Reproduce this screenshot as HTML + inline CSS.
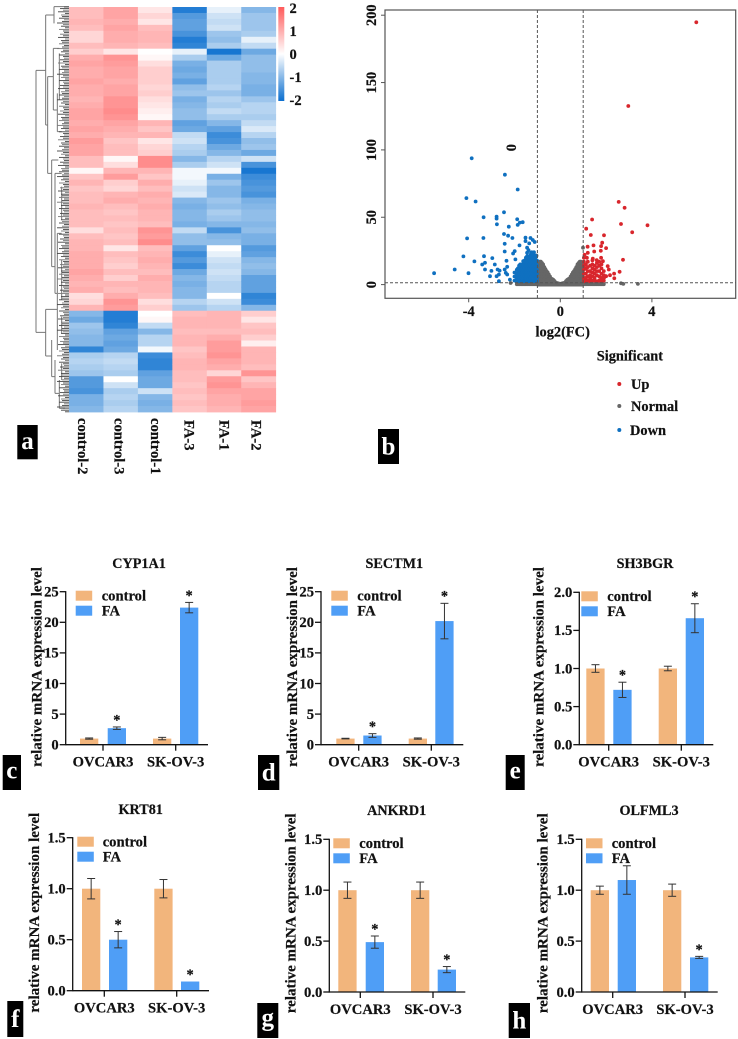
<!DOCTYPE html>
<html lang="en">
<head>
<meta charset="utf-8">
<title>Heatmap, volcano plot and qPCR bar charts</title>
<style>
html,body{margin:0;padding:0;background:#fff;width:738px;height:1039px;overflow:hidden}
svg{display:block;filter:blur(.3px)}
text{font-family:"Liberation Serif",serif;font-weight:bold;fill:#111;stroke:#111;stroke-width:.2px}
</style>
</head>
<body>
<svg id="figure" xmlns="http://www.w3.org/2000/svg" width="738" height="1039" viewBox="0 0 738 1039">
  <defs>
    <linearGradient id="cbar" x1="0" y1="0" x2="0" y2="1">
      <stop offset="0" stop-color="#ff5a5a"/><stop offset=".5" stop-color="#ffffff"/><stop offset="1" stop-color="#0b6fcf"/>
    </linearGradient>
  </defs>
  <g id="heatmap"></g>
  <g id="dendro" fill="none" stroke="#777" stroke-width="1">
    <path transform="scale(.33333)" stroke-width="3" d="M108 211V997M108 211H137M108 997H137M137 45V375M137 45H162M137 375H143M143 230V520M143 230H160M143 520H155M160 145V330M160 145H178M160 330H172M162 20V70M162 20H207M172 280V395M172 395H185M178 160V300M155 480V800M155 480H175M155 800H165M165 520V880M165 520H185M165 880H172M172 700V1000M172 700H185M185 560V660M185 780V900M137 928V1068M137 928H172M137 1068H155M172 928V1020M155 1020V1130M155 1130H165M172 960V1050M165 1080V1180M165 1180H178M178 1140V1225M178 1225H195M185 950V1000M185 1090V1140"/>
  </g>
  <g id="volcano"></g>
  <g id="bars"></g>
</svg>
<script>
// ---------- heatmap values (one array per sample, top row to bottom row) ----------
var heatColumnNames = ['control-2','control-3','control-1','FA-3','FA-1','FA-2'];
var heatControl2 = [.8,.8,.9,.8,.5,.5,.8,.6,1,1.1,1,1,1.1,1,1,.9,1,1.1,1.1,1,1.1,1,1.2,1.1,1.1,.8,.8,.1,.7,.9,.7,.8,.8,.9,.8,.8,.8,.4,.8,.9,.9,1,1,1,1.1,1,.9,1,.4,.5,.9,-1,-1.2,-.8,-.9,-1,-1,-1.7,-.7,-.6,-.7,-.8,-1.4,-1.4,-1.5,-1.1,-1.1,-1];
var heatControl3 = [1.1,1.1,1,1.1,1,1,.9,.3,1.3,1.2,1.1,1.1,1,1.1,1.1,1.3,1.3,1.4,1.3,1.1,1,.9,.7,.8,.8,.1,.4,.9,1.2,.6,.5,.9,1,.8,.7,.8,.7,.8,.7,.8,.3,.8,.7,.6,.8,.6,.9,.8,1,1.3,1.2,-1.8,-1.8,-1.7,-1.3,-1.2,-1.3,-1.2,-.6,-.5,-.6,-.7,0,-.4,-.7,-.6,-.7,-.6];
var heatControl1 = [.3,.5,.3,.8,.9,.9,.8,0,.1,.4,.6,.6,.6,.5,.6,.4,.3,.2,.1,.9,.7,.9,.3,.5,.6,1.4,1.4,.9,.7,1,.8,1,.9,1,.9,.9,.8,1.3,1.2,1.4,.8,.9,1,.9,.8,1,.9,.9,.8,.4,.6,0,.1,-.5,-1,-.6,-.6,-.1,-1.6,-1.7,-1.7,-1.3,-1.2,-1.2,-.4,-1,-1.1,-1];
var heatFA3 = [-1.8,-1.4,-1.3,-1.3,-1.5,-1.8,-1.7,-.2,-.7,-1.1,-1.2,-1.1,-1.3,-.9,-.8,-1.1,-1,-.9,-.9,-1.3,-1.2,-.5,-.4,-.6,-.7,-1,-.7,-.1,-.1,-.2,-.4,-.3,-1,-1.1,-1,-1,-1.1,-.5,-.9,-.9,-1.3,-1.6,-1.4,-1.6,-1.2,-1,-1.1,-1,-1,-.6,-.8,.8,.9,.9,.8,.9,.9,.7,.8,.9,.9,.8,.8,.7,.8,.7,.8,.7];
var heatFA1 = [-.2,-.4,-.5,-.4,-.8,-.9,-.7,-1.9,-1.2,-.7,-.7,-.7,-.7,-.6,-.8,-.6,-.7,-.5,-.7,-1,-1.3,-1.6,-1.5,-1.2,-1,-.6,-.4,-.1,-1.1,-.8,-1,-1,-.8,-.9,-.7,-.8,-1,-1.5,-1,-.9,0,-.2,-.4,-.5,-.4,-.5,-.6,-.6,0,-.4,-.6,.9,.9,.9,.8,1,1.2,1.2,1.3,1.1,1,.5,1.2,1.3,1.1,1,1,.9];
var heatFA2 = [-1,-.8,-.8,-.8,-.7,-.2,-.5,-1.2,-.9,-.9,-.9,-1,-1,-1.1,-1.1,-.8,-.6,-.6,-.7,-.5,-.3,-.6,-.9,-.8,-1.2,-.4,-1.5,-1.9,-1.6,-1.5,-1.4,-1.5,-1.1,-1,-.9,-.9,-1,-.9,-1.1,-1.1,-1.4,-1.3,-1,-.9,-1,-1.3,-1.3,-1.3,-1.7,-1.6,-1,.6,.3,.7,.8,.6,.2,.9,.9,.9,.8,1.3,.7,.9,1.1,1.1,1.2,1.1];
var colorbarLabels = ['2','1','0','-1','-2'];
var colorbarValues = [2,1,0,-1,-2];

// ---------- volcano values: [log2FC, -log10 p] ----------
var volcanoXTicks = [-4,0,4];
var volcanoYTicks = [0,50,100,150,200];
var upPoints = [[5.94,194.7],[2.97,132.6],[2.55,61.4],[2.81,57],[1.39,48.3],[2.65,45],[3.81,44],[3.14,38.8],[1.13,41.5],[1.33,36.8],[1.91,36.6],[1.83,31.1],[1.78,28.6],[2,27.1],[1.19,28.1],[1.45,29.1],[1.77,25.1],[1.48,24.6],[1.2,23.6],[1.06,22.1],[1.16,19.9],[1.42,19.2],[1.78,19.9],[1.59,18.2],[1.86,17.4],[2.74,18.4],[2.07,13.7],[2.12,11.2],[2.35,8.2],[2.59,9.5],[2.17,7],[2,6.2],[2.36,4.7],[1.91,5],[1.74,3.2]];
var upColumns = [[1.03,[2.5,5,8,11,14,17,20]],[1.12,[2.5,5,8,12,15]],[1.2,[3,6,10,13,17]],[1.3,[2.5,4.5,7,10,14]],[1.4,[3,6,9,12,15,18]],[1.5,[3,5,8,11,14]],[1.6,[2.5,7,10,13,16]],[1.7,[3,6,10,14,17]],[1.8,[2.5,5,8,12,15]],[1.9,[3,7,10]]];
var downPoints = [[-3.87,93.8],[-2.42,81.6],[-1.86,70.6],[-4.1,64.2],[-3.7,61.7],[-2.46,53.7],[-3.35,50],[-2.78,50.5],[-2.78,49],[-1.88,48.5],[-2.77,44.8],[-2.25,43],[-1.86,44.3],[-1.77,46],[-1.64,46.3],[-2.46,37.6],[-2.28,36.3],[-2.09,34.6],[-4.07,34.3],[-3.36,34.6],[-1.52,34.8],[-1.52,32.3],[-1.3,34.6],[-1.2,33.1],[-1.12,31.6],[-1.36,30.6],[-2.43,30.3],[-1.78,29.1],[-1.45,27.4],[-1.39,25.6],[-1.99,24.9],[-2.43,24.6],[-2.06,23.1],[-1.45,23.6],[-1.28,23.6],[-1.09,21.6],[-4.23,20.9],[-3.33,21.1],[-2.97,19.7],[-3.75,17.2],[-3.41,14.9],[-3.29,16.2],[-2.86,14.9],[-2.35,17.7],[-1.96,18.7],[-1.62,17.4],[-5.51,8.5],[-4.61,11.2],[-4.01,8.5],[-3.29,11.2],[-3.01,10.2],[-3.07,6.2],[-2.74,11.2],[-2.65,10.4],[-2.68,7.5],[-2.78,6.2],[-2.68,2.5],[-2.32,13.2],[-2.43,11.2],[-2.38,8.7],[-2.32,7.5],[-2.2,3.7]];
var downColumns = [[-2,[3,6,9]],[-1.95,[3,6]],[-1.9,[3,5,8,11]],[-1.85,[3,6,9,12]],[-1.8,[2.5,5,8,11,14]],[-1.75,[3,6,9,12,15]],[-1.7,[2.5,5,8,11,14]],[-1.65,[3,6,9,12,15]],[-1.6,[2.5,5,8,11,14,17]],[-1.55,[3,6,9,12,15,18]],[-1.5,[2.5,5,8,11,14,17,20]],[-1.45,[3,6,9,12,15,18,21]],[-1.4,[2.5,5,8,11,14,17,20]],[-1.35,[3,6,9,12,15,18,21]],[-1.3,[2.5,5,8,11,14,17,20,22]],[-1.25,[3,6,9,12,15,18,21,24]],[-1.2,[2.5,5,8,11,14,17,20,22]],[-1.15,[3,6,9,12,15,18,21,24]],[-1.1,[2.5,5,8,11,14,17,20]],[-1.05,[3,6,9,12,15,18,21]],[-1.02,[2.5,5,8,11,14,18]]];
var normalPoints = [[.99,27.4],[2.75,.5],[3.39,.5],[-2.17,1.2],[2.65,1],[-1.9,.3],[-1.85,.3],[-1.8,.3],[-1.75,.3],[-1.7,.3],[-1.65,.3],[-1.6,.3],[-1.55,.3],[-1.5,.3],[-1.45,.3],[-1.4,.3],[-1.35,.3],[-1.3,.3],[-1.25,.3],[-1.2,.3],[-1.15,.3],[-1.1,.3],[-1.05,.3],[1.05,.3],[1.1,.3],[1.15,.3],[1.2,.3],[1.25,.3],[1.3,.3],[1.35,.3],[1.4,.3],[1.45,.3],[1.5,.3],[1.55,.3],[1.6,.3],[1.65,.3],[1.7,.3],[1.75,.3],[1.8,.3],[1.85,.3],[1.9,.3],[-1.04,21.6]];
var normalColumns = [[-.98,[0,2,4,6,8,10,12,14,16]],[-.94,[0,2,4,6,8,10,12,14,16]],[-.9,[0,2,4,6,8,10,12,14,16,17]],[-.85,[0,2,4,6,8,10,12,14,16,17]],[-.8,[0,2,4,6,8,10,12,14,16]],[-.75,[0,2,4,6,8,10,12,14,15]],[-.7,[0,2,4,6,8,10,12,13]],[-.65,[0,2,4,6,8,10,11.5]],[-.6,[0,2,4,6,8,10]],[-.55,[0,2,4,6,8,9]],[-.5,[0,2,4,6,7.5]],[-.45,[0,2,4,6]],[-.4,[0,2,4,4.5]],[-.35,[0,2,4]],[-.3,[0,2,3.5]],[-.25,[0,1.5,2.5]],[-.2,[0,1.5]],[-.15,[0,1.2]],[-.1,[0,1]],[-.05,[0,.7]],[0,[0,.5]],[.05,[0,.7]],[.1,[0,1]],[.15,[0,1.2]],[.2,[0,1.5]],[.25,[0,1.5,2.5]],[.3,[0,2,3.5]],[.35,[0,2,4]],[.4,[0,2,4,4.5]],[.45,[0,2,4,6]],[.5,[0,2,4,6,7.5]],[.55,[0,2,4,6,8,9]],[.6,[0,2,4,6,8,10]],[.65,[0,2,4,6,8,10,11.5]],[.7,[0,2,4,6,8,10,12,13]],[.75,[0,2,4,6,8,10,12,14,15]],[.8,[0,2,4,6,8,10,12,14,16]],[.85,[0,2,4,6,8,10,12,14,16,17]],[.9,[0,2,4,6,8,10,12,14,16,17]],[.94,[0,2,4,6,8,10,12,14,16]],[.98,[0,2,4,6,8,10,12,14,16]]];
var legendLabels = ['Up','Normal','Down'];

// ---------- bar chart values ----------
var groups = ['OVCAR3','SK-OV-3'];
var seriesNames = ['control','FA'];
var ticks25 = [0,5,10,15,20,25];
var ticks25Labels = ['0','5','10','15','20','25'];
var ticks20 = [0,.5,1,1.5,2];
var ticks20Labels = ['0.0','0.5','1.0','1.5','2.0'];
var ticks15 = [0,.5,1,1.5];
var ticks15Labels = ['0.0','0.5','1.0','1.5'];

var cyp1a1Control = [1,1];
var cyp1a1FA = [2.7,22.4];
var cyp1a1ControlErr = [.1,.2];
var cyp1a1FAErr = [.2,.85];
var cyp1a1Stars = [1,1];

var sectm1Control = [1,1];
var sectm1FA = [1.5,20.2];
var sectm1ControlErr = [.05,.1];
var sectm1FAErr = [.3,2.9];
var sectm1Stars = [1,1];

var sh3bgrControl = [1,1];
var sh3bgrFA = [.72,1.66];
var sh3bgrControlErr = [.05,.03];
var sh3bgrFAErr = [.1,.19];
var sh3bgrStars = [1,1];

var krt81Control = [1,1];
var krt81FA = [.5,.09];
var krt81ControlErr = [.1,.09];
var krt81FAErr = [.08,0];
var krt81Stars = [1,1];

var ankrd1Control = [1,1];
var ankrd1FA = [.49,.22];
var ankrd1ControlErr = [.08,.08];
var ankrd1FAErr = [.06,.03];
var ankrd1Stars = [1,1];

var olfml3Control = [1,1];
var olfml3FA = [1.1,.34];
var olfml3ControlErr = [.04,.06];
var olfml3FAErr = [.14,.01];
var olfml3Stars = [0,1];

var NS = 'http://www.w3.org/2000/svg';
function mk(parent, tag, name, attrs, txt){
  var el = document.createElementNS(NS, tag);
  
  
  for (var k in attrs) el.setAttribute(k, attrs[k]);
  if (txt !== undefined) el.textContent = txt;
  parent.appendChild(el);
  return el;
}
function line(p, name, x1, y1, x2, y2, stroke, w, dash){
  var a = {x1:x1, y1:y1, x2:x2, y2:y2, stroke:stroke, 'stroke-width':w};
  if (dash) a['stroke-dasharray'] = dash;
  return mk(p, 'line', name, a);
}
function label(p, name, x, y, s, size, anchor, rot){
  var a = {x:x, y:y, 'font-size':size, 'text-anchor':anchor || 'start'};
  if (rot) a.transform = 'rotate(' + rot + ' ' + x + ' ' + y + ')';
  return mk(p, 'text', name, a, s);
}
function block(p, name, x, y, w, h, letter, dy){
  mk(p, 'rect', name + '-block', {x:x, y:y, width:w, height:h, fill:'#000'});
  var t = label(p, name + '-label', x + w / 2, y + h / 2 + dy, letter, 25, 'middle');
  t.style.fill = '#fff';
  t.style.stroke = 'none';
}

// ---------- heatmap ----------
(function(){
  var g = document.getElementById('heatmap');
  var cols = [heatControl2, heatControl3, heatControl1, heatFA3, heatFA1, heatFA2];
  var x0 = 69, y0 = 7, totalW = 206.7, totalH = 405;
  var cw = totalW / cols.length;
  function color(v){
    var t = Math.min(Math.abs(v) / 2, 1), a = v < 0 ? [11,111,207] : [255,90,90];
    return 'rgb(' + a.map(function(c){ return Math.round(255 + (c - 255) * t); }).join(',') + ')';
  }
  cols.forEach(function(col, c){
    var rh = totalH / col.length;
    col.forEach(function(v, r){
      mk(g, 'rect', 'heat-cell', {x:x0 + c * cw, y:y0 + r * rh, width:cw + .4, height:rh + .4, fill:color(v)});
    });
  });
  var labelX = [88, 124.5, 161, 194.5, 229.5, 261.5];
  var labelY = [418, 418, 418, 420, 420, 420];
  heatColumnNames.forEach(function(n, i){
    label(g, 'column-label', labelX[i] - 10, labelY[i], n, 14.6, 'start', 90);
  });
  mk(g, 'rect', 'colorbar', {x:278.3, y:7, width:6, height:94, fill:'url(#cbar)'});
  colorbarValues.forEach(function(v, i){
    var y = 54 - v * 23;
    label(g, 'colorbar-tick', 289.5, y + 4.8, colorbarLabels[i], 14.5);
  });
  block(g, 'panel-a', 17.3, 425, 20.4, 34.3, 'a', 7);

  // leaf comb of the dendrogram
  var d = document.getElementById('dendro');
  var combLen = [5,9,6,11,4,8,7,10,5,7,12,6,8,4,10,6];
  var i = 0;
  for (var y = 7; y < 412; y += 1.6){
    var len = combLen[i++ % combLen.length];
    line(d, 'dendrogram-leaf', 69 - len, y, 69, y, i % 3 ? '#444' : '#777', .9);
  }
})();

// ---------- volcano ----------
(function(){
  var g = document.getElementById('volcano');
  function vx(v){ return 560.3 + v * 22.9; }
  function vy(v){ return 284.6 - v * 1.347; }
  var L = 385, R = 735.7, T = 10, B = 298.3;
  function dot(p, cls, col){
    mk(g, 'circle', cls, {cx:vx(p[0]).toFixed(1), cy:vy(p[1]).toFixed(1), r:1.9, fill:col});
  }
  function plot(points, columns, cls, col){
    columns.forEach(function(c){
      c[1].forEach(function(y){ dot([c[0], y], cls, col); });
    });
    points.forEach(function(p){ dot(p, cls, col); });
  }
  plot(normalPoints, normalColumns, 'point-normal', '#666666');
  plot(downPoints, downColumns, 'point-down', '#0f70c0');
  plot(upPoints, upColumns, 'point-up', '#d8262c');

  line(g, 'threshold-fc-low', vx(-1), T, vx(-1), B, '#555', 1, '3 2');
  line(g, 'threshold-fc-high', vx(1), T, vx(1), B, '#555', 1, '3 2');
  line(g, 'threshold-p', L, 282.7, R, 282.7, '#555', 1, '3 2');
  mk(g, 'rect', 'plot-frame', {x:L, y:T, width:R - L, height:B - T, fill:'none', stroke:'#555', 'stroke-width':1.2});

  volcanoYTicks.forEach(function(v){
    line(g, 'y-tick', L - 4, vy(v), L, vy(v), '#555', 1);
    label(g, 'y-tick-label', 376, vy(v), String(v), 14.4, 'middle', -90);
  });
  volcanoXTicks.forEach(function(v){
    line(g, 'x-tick', vx(v), B, vx(v), B + 4, '#555', 1);
    label(g, 'x-tick-label', vx(v), 316, String(v), 14.4, 'middle');
  });
  label(g, 'x-axis-title', 562.7, 336.5, 'log2(FC)', 14.4, 'middle');
  label(g, 'stray-zero-label', 516, 147.7, '0', 14.4, 'middle', -90);
  label(g, 'legend-title', 596.7, 360.5, 'Significant', 14.4);
  var lgY = [384, 406, 430], lgC = ['#d8262c', '#666666', '#0f70c0'], lgX = [631, 631, 630];
  legendLabels.forEach(function(n, i){
    mk(g, 'circle', 'legend-dot', {cx:619.3, cy:lgY[i], r:2, fill:lgC[i]});
    label(g, 'legend-entry', lgX[i], lgY[i] + 4.8, n, 14.4);
  });
  block(g, 'panel-b', 378, 429, 21, 35, 'b', 8);
})();

// ---------- bar panels ----------
function barPanel(o){
  var g = mk(document.getElementById('bars'), 'g', 'panel-' + o.id, {});
  var maxV = o.ticks[o.ticks.length - 1];
  function y(v){ return o.base - v * (o.base - o.top) / maxV; }
  var W = 18.3, ctrlC = '#f2b57c', faC = '#4f9ef6';
  function bar(i, v, err, col, nm){
    var x = o.bars[i];
    mk(g, 'rect', 'bar-' + nm, {x:x, y:y(v), width:W, height:o.base - y(v), fill:col});
    if (err > 0){
      var c = x + W / 2;
      line(g, 'error-bar', c, y(v + err), c, y(Math.max(v - err, 0)), '#333', 1);
      line(g, 'error-cap', c - 4, y(v + err), c + 4, y(v + err), '#333', 1);
      line(g, 'error-cap', c - 4, y(Math.max(v - err, 0)), c + 4, y(Math.max(v - err, 0)), '#333', 1);
    }
  }
  o.control.forEach(function(v, i){ bar(i * 2, v, o.controlErr[i], ctrlC, 'control'); });
  o.fa.forEach(function(v, i){
    bar(i * 2 + 1, v, o.faErr[i], faC, 'fa');
    if (o.stars[i]){
      label(g, 'significance-star', o.bars[i * 2 + 1] + W / 2, y(v + o.faErr[i]) - 2.6, '*', 14.4, 'middle');
    }
  });
  line(g, 'y-axis', o.ax, o.top - .6, o.ax, o.base + .6, '#111', 1.3);
  line(g, 'x-axis', o.ax, o.base, o.end, o.base, '#111', 1.3);
  o.ticks.forEach(function(v, i){
    line(g, 'y-tick', o.ax - 6, y(v), o.ax, y(v), '#111', 1.3);
    label(g, 'y-tick-label', o.ax - 7, y(v) + 4.8, o.tickLabels[i], 14.6, 'end');
  });
  groups.forEach(function(n, i){
    line(g, 'x-tick', o.groupX[i], o.base, o.groupX[i], o.base + 6, '#111', 1.3);
    label(g, 'x-tick-label', o.groupX[i], o.xLabelY, n, 14.6, 'middle');
  });
  [ctrlC, faC].forEach(function(c, i){
    var ly = o.top - 1 + i * 15;
    mk(g, 'rect', 'legend-swatch', {x:o.swatchX, y:ly, width:16.5, height:10, fill:c});
    label(g, 'legend-entry', o.legendX, ly + 9.8, seriesNames[i], 14.6);
  });
  label(g, 'chart-title', o.titleX, o.titleY, o.title, 14.2, 'middle');
  label(g, 'y-axis-title', o.yTitleX, o.yTitleY, 'relative mRNA expression level', 15, 'middle', -90);
  block(g, 'panel-' + o.id, o.block[0], o.block[1], o.block[2], o.block[3], o.id, o.block[4]);
}

barPanel({id:'c', title:'CYP1A1', control:cyp1a1Control, fa:cyp1a1FA, controlErr:cyp1a1ControlErr, faErr:cyp1a1FAErr, stars:cyp1a1Stars,
  ticks:ticks25, tickLabels:ticks25Labels, ax:65.7, base:744.7, top:591.7, end:208, bars:[80,107.7,153,180], groupX:[103,175.7],
  swatchX:75.7, legendX:101.7, titleX:139, titleY:568, yTitleX:41.5, yTitleY:667, xLabelY:766.7, block:[2.7,755,18.3,35,6]});
barPanel({id:'d', title:'SECTM1', control:sectm1Control, fa:sectm1FA, controlErr:sectm1ControlErr, faErr:sectm1FAErr, stars:sectm1Stars,
  ticks:ticks25, tickLabels:ticks25Labels, ax:321, base:744.7, top:591.7, end:463.3, bars:[336.3,363.3,408.7,435.3], groupX:[358.7,431.3],
  swatchX:331.3, legendX:357.3, titleX:394.3, titleY:568, yTitleX:297, yTitleY:667, xLabelY:766.7, block:[258,755,21.3,35,8]});
barPanel({id:'e', title:'SH3BGR', control:sh3bgrControl, fa:sh3bgrFA, controlErr:sh3bgrControlErr, faErr:sh3bgrFAErr, stars:sh3bgrStars,
  ticks:ticks20, tickLabels:ticks20Labels, ax:579.3, base:744.7, top:592.3, end:713.3, bars:[586.3,613.3,658.7,685.7], groupX:[608.7,681.3],
  swatchX:581.3, legendX:607.3, titleX:645, titleY:568, yTitleX:543.7, yTitleY:667, xLabelY:766.7, block:[505.7,755,19,35,6]});
barPanel({id:'f', title:'KRT81', control:krt81Control, fa:krt81FA, controlErr:krt81ControlErr, faErr:krt81FAErr, stars:krt81Stars,
  ticks:ticks15, tickLabels:ticks15Labels, ax:72.7, base:990.7, top:837.7, end:209, bars:[82,109,154.3,181], groupX:[104.3,176.7],
  swatchX:77.3, legendX:102.7, titleX:140.7, titleY:814, yTitleX:39, yTitleY:912.7, xLabelY:1012.7, block:[7.3,1001,16,36,8]});
barPanel({id:'g', title:'ANKRD1', control:ankrd1Control, fa:ankrd1FA, controlErr:ankrd1ControlErr, faErr:ankrd1FAErr, stars:ankrd1Stars,
  ticks:ticks15, tickLabels:ticks15Labels, ax:329.3, base:992, top:839.3, end:465.3, bars:[338.3,365.7,411,437.7], groupX:[360.3,433],
  swatchX:333.3, legendX:359.3, titleX:396.7, titleY:815, yTitleX:295.5, yTitleY:913.3, xLabelY:1014, block:[257.3,1003,21,35,5]});
barPanel({id:'h', title:'OLFML3', control:olfml3Control, fa:olfml3FA, controlErr:olfml3ControlErr, faErr:olfml3FAErr, stars:olfml3Stars,
  ticks:ticks15, tickLabels:ticks15Labels, ax:581.7, base:992, top:839.3, end:717.7, bars:[590.7,617.7,663,690], groupX:[612.7,685],
  swatchX:586, legendX:611.7, titleX:649, titleY:815, yTitleX:547.7, yTitleY:913.3, xLabelY:1014, block:[508.7,1003,21.3,35,8]});
</script>
</body>
</html>
